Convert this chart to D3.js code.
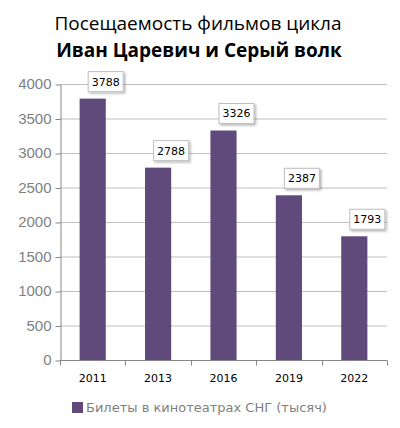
<!DOCTYPE html>
<html>
<head>
<meta charset="utf-8">
<script src="https://cdn.jsdelivr.net/npm/d3@7"></script>
<style>
  html, body { margin: 0; padding: 0; background: #fff; }
  svg { display: block; }
</style>
</head>
<body>
<div id="chart"></div>
<script>
const years = ['2011', '2013', '2016', '2019', '2022'];
const tickets = [3788, 2788, 3326, 2387, 1793];
const yTicks = [0, 500, 1000, 1500, 2000, 2500, 3000, 3500, 4000];
const titleLines = ['Посещаемость фильмов цикла', 'Иван Царевич и Серый волк'];
const seriesName = 'Билеты в кинотеатрах СНГ (тысяч)';

const W = 400, H = 428;
const margin = { top: 84, right: 13, bottom: 68, left: 60 };
const innerW = W - margin.left - margin.right;
const innerH = H - margin.top - margin.bottom;
const barColor = '#604a7b';

const svg = d3.select('#chart').append('svg')
  .attr('width', W).attr('height', H);

// тень для подписей
const defs = svg.append('defs');
const f = defs.append('filter').attr('id', 'sh').attr('x', '-20%').attr('y', '-20%').attr('width', '150%').attr('height', '160%');
f.append('feDropShadow').attr('dx', 1.5).attr('dy', 1.5).attr('stdDeviation', 1.2).attr('flood-color', '#000').attr('flood-opacity', 0.3);

// заголовок
svg.append('text')
  .attr('x', 198).attr('y', 30)
  .attr('text-anchor', 'middle')
  .attr('font-family', 'Open Sans, sans-serif')
  .attr('font-size', 19)
  .attr('fill', '#000')
  .text(titleLines[0]);
svg.append('text')
  .attr('x', 199).attr('y', 57)
  .attr('text-anchor', 'middle')
  .attr('font-family', 'Open Sans, sans-serif')
  .attr('font-weight', 700)
  .attr('font-size', 19)
  .attr('fill', '#000')
  .text(titleLines[1]);

const g = svg.append('g').attr('transform', `translate(${margin.left},${margin.top})`);

const x = d3.scaleBand().domain(years).range([0, innerW]).paddingInner(0.6).paddingOuter(0.3);
const y = d3.scaleLinear().domain([0, 4000]).range([innerH, 0]);

// сетка
g.append('g').selectAll('line').data(yTicks.filter(d => d > 0)).join('line')
  .attr('x1', 0).attr('x2', innerW)
  .attr('y1', d => y(d) + 0.5).attr('y2', d => y(d) + 0.5)
  .attr('stroke', '#bfbfbf');

// ось Y
const yAxis = g.append('g')
  .attr('transform', 'translate(0.5,0)')
  .call(d3.axisLeft(y).tickValues(yTicks).tickFormat(d3.format('d')).tickSize(5).tickPadding(4).tickSizeOuter(0));
yAxis.select('.domain').attr('stroke', '#868686');
yAxis.selectAll('.tick line').attr('stroke', '#868686').attr('transform', 'translate(0,0.5)');
yAxis.selectAll('.tick text')
  .attr('font-family', 'Liberation Sans, Arial, sans-serif')
  .attr('font-size', 15)
  .attr('fill', '#7f7f7f');

// столбцы
g.append('g').selectAll('rect').data(tickets).join('rect')
  .attr('x', (d, i) => x(years[i]))
  .attr('y', d => y(d))
  .attr('width', x.bandwidth())
  .attr('height', d => innerH - y(d))
  .attr('fill', barColor);

// ось X
const xAxis = g.append('g').attr('transform', `translate(0,${innerH + 0.5})`);
xAxis.append('line').attr('x1', 0).attr('x2', innerW).attr('stroke', '#868686');
xAxis.selectAll('line.tk').data(d3.range(years.length + 1)).join('line')
  .attr('class', 'tk')
  .attr('x1', i => Math.round(i * innerW / years.length) + 0.5)
  .attr('x2', i => Math.round(i * innerW / years.length) + 0.5)
  .attr('y1', 0).attr('y2', 5)
  .attr('stroke', '#868686');
xAxis.selectAll('text').data(years).join('text')
  .attr('x', d => x(d) + x.bandwidth() / 2)
  .attr('y', 21)
  .attr('text-anchor', 'middle')
  .attr('font-family', 'DejaVu Sans, sans-serif')
  .attr('font-size', 11)
  .attr('fill', '#000')
  .text(d => d);

// подписи значений
const lbl = g.append('g').selectAll('g').data(tickets).join('g')
  .attr('transform', (d, i) => `translate(${x(years[i]) + x.bandwidth() / 2 + 13},${y(d) - 17})`);
lbl.append('rect')
  .attr('x', -17.5).attr('y', -10).attr('width', 35).attr('height', 20)
  .attr('fill', '#fff').attr('stroke', '#bfbfbf')
  .attr('filter', 'url(#sh)');
lbl.append('text')
  .attr('text-anchor', 'middle').attr('dy', '0.36em')
  .attr('font-family', 'DejaVu Sans, sans-serif')
  .attr('font-size', 11)
  .attr('fill', '#000')
  .text(d => d);

// легенда
svg.append('rect').attr('x', 72).attr('y', 402).attr('width', 11).attr('height', 11).attr('fill', barColor);
svg.append('text')
  .attr('x', 86).attr('y', 412)
  .attr('font-family', 'DejaVu Sans, sans-serif')
  .attr('font-size', 13)
  .attr('fill', '#7f7f7f')
  .text(seriesName);
</script>
</body>
</html>
